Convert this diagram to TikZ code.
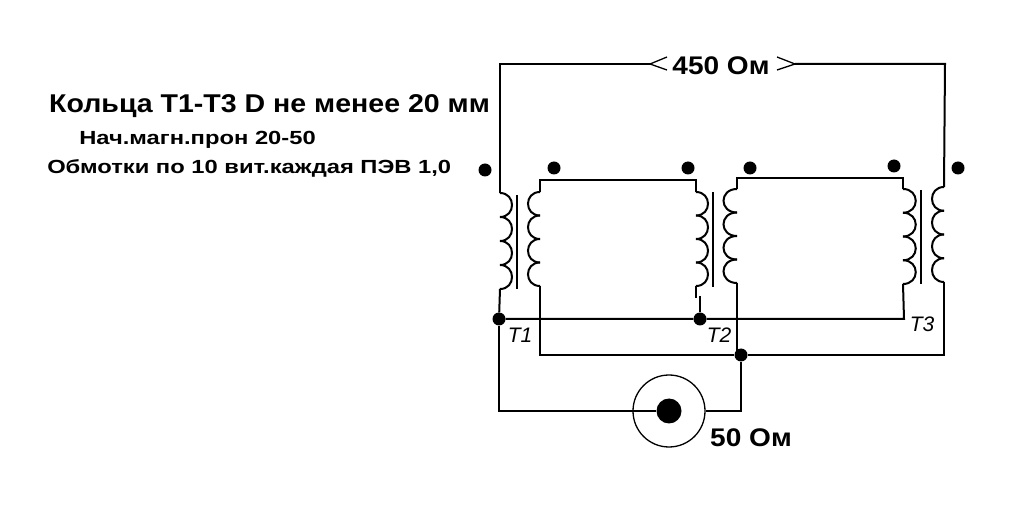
\documentclass[tikz,border=0pt]{standalone}
\usepackage{fontspec}
\setmainfont{Liberation Sans}
\tikzset{
  wire/.style={line width=2pt,black,line join=miter},
  thinwire/.style={line width=1.3pt,black},
  junction/.style={circle,fill=black,inner sep=0pt,minimum size=13pt},
  terminal/.style={circle,fill=black,inner sep=0pt,minimum size=13pt},
  tag/.style={font=\fontsize{21}{21}\selectfont\itshape,inner sep=0pt,anchor=base},
  title/.style={font=\fontsize{25.7}{26}\selectfont\bfseries,inner sep=0pt,anchor=base west,xscale=1.11,transform shape},
  note/.style={font=\fontsize{19}{19}\selectfont\bfseries,inner sep=0pt,anchor=base west,xscale=1.25,transform shape},
  value/.style={font=\fontsize{25.5}{26}\selectfont\bfseries,inner sep=0pt,anchor=base,xscale=1.1,transform shape},
}
% coil: x of the wire, y of the top, height of one turn, bulge
\newcommand{\coil}[4]{
  \foreach \n in {0,...,3}
    \draw[wire] (#1,#2+\n*#3) .. controls (#1+#4,#2+\n*#3) and (#1+#4,#2+\n*#3+#3) .. (#1,#2+\n*#3+#3);
}
\begin{document}
\begin{tikzpicture}[x=1pt,y=-1pt]
    \useasboundingbox (0,0) rectangle (1013,529);
    % Texts
    \node[title] (ttl) at (49,113) {Кольца Т1-Т3 D не менее 20 мм};
    \node[note] (nt1) at (79,145) {Нач.магн.прон 20-50};
    \node[note] (nt2) at (47,174) {Обмотки по 10 вит.каждая ПЭВ 1,0};
    % Terminals
    \node[terminal] (a1) at (485,170) {};
    \node[terminal] (a2) at (554,168) {};
    \node[terminal] (b1) at (688,168) {};
    \node[terminal] (b2) at (750,168) {};
    \node[terminal] (c1) at (894,166) {};
    \node[terminal] (c2) at (958,168) {};
    % Junctions
    \node[junction] (j1) at (499,319) {};
    \node[junction] (j2) at (700,319) {};
    \node[junction] (j3) at (741,355) {};
    % Coaxial socket
    \node[circle,draw,line width=1.3pt,minimum size=72pt,inner sep=0pt] (sock) at (669,411) {};
    \node[circle,fill=black,minimum size=25pt,inner sep=0pt] (pin) at (669,411) {};
    % Transformer T1
    \coil{500}{193}{24}{16}
    \coil{540}{192}{23.5}{-16}
    \draw[wire] (517,195) -- (517,289);
    % Transformer T2
    \coil{696}{192}{23.5}{16}
    \coil{737}{189}{23.5}{-18}
    \draw[wire] (713,192) -- (713,287);
    % Transformer T3
    \coil{903}{189}{23.75}{17}
    \coil{944}{187}{23.75}{-16}
    \draw[wire] (921,190) -- (921,284);
    % Windings joined at the top
    \draw[wire] (540,192) |- (696,180) -- (696,192);
    \draw[wire] (737,189) |- (903,178) -- (903,189);
    % Outer winding wires
    \coordinate (top1) at (500,64);
    \coordinate (top2) at (945,64);
    \node[value] (ohm) at (721,75) {450 Ом};
    \coordinate (tipl) at (650,64);
    \coordinate (tipr) at (795,64);
    \draw[wire] (tipl) -- (top1) -- (500,193);
    \draw[wire] (tipr) -- (top2) -- (944,187);
    \draw[thinwire] (667,57) -- (tipl) -- (667,70);
    \draw[thinwire] (777,57) -- (tipr) -- (777,70);
    % Lower wires
    \draw[wire] (500,289) -- (j1);
    \draw[wire] (696,286) -- (696,298);
    \draw[wire] (700,296) -- (j2);
    \draw[wire] (j1) -- (j2) -- (904,319) -- (903,284);
    \draw[wire] (540,286) |- (j3) -- (944,355) -- (944,282);
    \draw[wire] (737,283) -- (737,355);
    \draw[wire] (j1) |- (pin);
    \draw[wire] (sock) -| (j3);
    % Labels
    \node[tag] (t1) at (520,343) {T1};
    \node[tag] (t2) at (719,343) {T2};
    \node[tag] (t3) at (922,332) {T3};
    \node[value] (load) at (751,447) {50 Ом};
\end{tikzpicture}
\end{document}
